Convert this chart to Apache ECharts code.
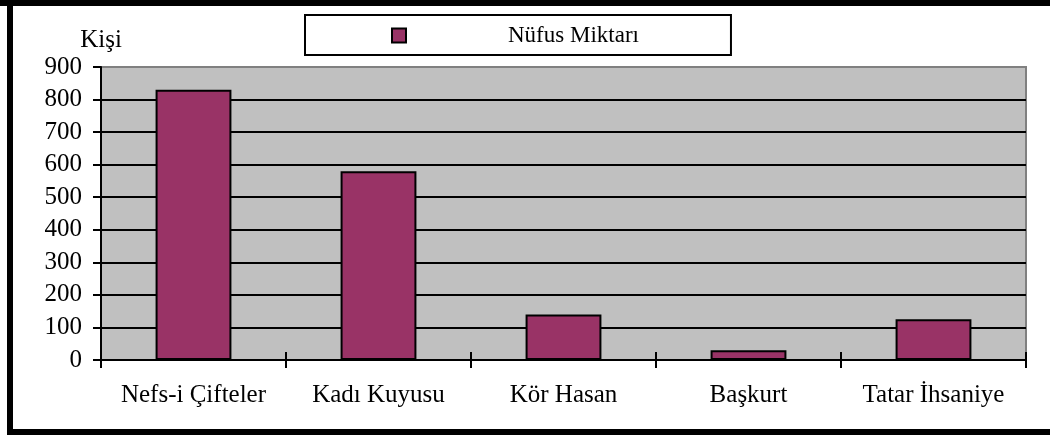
<!DOCTYPE html>
<html>
<head>
<meta charset="utf-8">
<script src="https://cdn.jsdelivr.net/npm/echarts@6/dist/echarts.min.js"></script>
<style>
  html, body { margin: 0; padding: 0; background: #fff; }
  #nufusChart { width: 1050px; height: 435px; }
</style>
</head>
<body>
<div id="nufusChart"></div>
<script>
var koyler = ['Nefs-i Çifteler', 'Kadı Kuyusu', 'Kör Hasan', 'Başkurt', 'Tatar İhsaniye'];
var nufus = [830, 580, 140, 30, 125];
var seriesName = 'Nüfus Miktarı';
var yName = 'Kişi';

var nufusChart = echarts.init(document.getElementById('nufusChart'));

var font = '"Liberation Serif", "Times New Roman", serif';
var fs = 25;

var option = {
    animation: false,
    textStyle: { fontFamily: font },
    graphic: [
        { type: 'rect', shape: { x: 7, y: 0, width: 6, height: 435 }, style: { fill: '#000' } },
        { type: 'rect', shape: { x: 0, y: 0, width: 1050, height: 6 }, style: { fill: '#000' } },
        { type: 'rect', shape: { x: 7, y: 429, width: 1043, height: 6 }, style: { fill: '#000' } }
    ],
    legend: {
        data: [seriesName],
        left: 305,
        top: 15,
        padding: [9, 92, 8, 86],
        backgroundColor: '#fff',
        borderColor: '#000',
        borderWidth: 2,
        borderRadius: 0,
        itemWidth: 14,
        itemHeight: 14,
        icon: 'rect',
        textStyle: {
            fontFamily: font,
            fontSize: 23,
            color: '#000',
            lineHeight: 23,
            padding: [0, 0, 0, 97]
        }
    },
    grid: {
        left: 101,
        right: 24,
        top: 67,
        bottom: 75,
        show: true,
        backgroundColor: '#c0c0c0',
        borderColor: '#808080',
        borderWidth: 2
    },
    xAxis: [{
        type: 'category',
        data: koyler,
        axisLine: { lineStyle: { color: '#000', width: 2 } },
        axisTick: { show: true, interval: 0, length: 8, lineStyle: { color: '#000', width: 2 } },
        axisLabel: { interval: 0, color: '#000', fontSize: fs, fontFamily: font, margin: 23 }
    }, {
        type: 'category',
        data: koyler,
        position: 'bottom',
        offset: -8,
        axisLine: { show: true, onZero: false, lineStyle: { color: 'rgba(0,0,0,0)', width: 0 } },
        axisTick: { show: true, interval: 0, length: 8, lineStyle: { color: '#000', width: 2 } },
        axisLabel: { show: false }
    }],
    yAxis: {
        type: 'value',
        min: 0,
        max: 900,
        interval: 100,
        name: yName,
        nameLocation: 'end',
        nameGap: 14,
        nameTextStyle: { color: '#000', fontSize: fs, fontFamily: font },
        axisLine: { show: true, lineStyle: { color: '#000', width: 2 } },
        axisTick: { show: true, length: 8, lineStyle: { color: '#000', width: 2 } },
        axisLabel: { color: '#000', fontSize: fs, fontFamily: font, margin: 19 },
        splitLine: {
            show: true,
            lineStyle: {
                width: 2,
                color: ['#000', '#000', '#000', '#000', '#000', '#000', '#000', '#000', '#000', '#808080']
            }
        }
    },
    series: [{
        name: seriesName,
        type: 'bar',
        data: nufus,
        barWidth: '41%',
        itemStyle: {
            color: '#993366',
            borderColor: '#000',
            borderWidth: 2
        }
    }]
};

nufusChart.setOption(option);
</script>
</body>
</html>
